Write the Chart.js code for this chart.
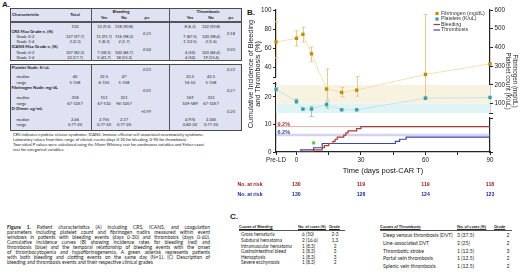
<!DOCTYPE html>
<html><head><meta charset="utf-8">
<script src="https://cdn.jsdelivr.net/npm/chart.js@4.4.1/dist/chart.umd.min.js"></script>
<style>
html,body{margin:0;padding:0;background:#fff;}
#page{position:relative;width:520px;height:277px;overflow:hidden;font-family:Lato,'Liberation Sans',sans-serif;color:#1b1b1b;}
.t{position:absolute;white-space:nowrap;line-height:1;}
.box{position:absolute;box-sizing:border-box;background:#dfe2f2;border:1px solid #4a4a4a;}
.ln{position:absolute;background:#555;}
.cap{position:absolute;left:7px;width:203px;font-size:5px;line-height:1;text-align:justify;text-align-last:justify;color:#1b1b1b;}
.cap.last{text-align-last:left;}
#chartWrap{position:absolute;left:228px;top:0;width:292px;height:205px;}
#chartWrap canvas{width:292px;height:205px;}
.pl{position:absolute;font-family:'Liberation Sans',Arial,sans-serif;font-weight:700;font-size:8px;line-height:1;}
</style></head>
<body><div id="page">
<div class="pl" style="left:2px;top:1px;">A.</div>
<div class="pl" style="left:247px;top:9px;">B.</div>
<div class="pl" style="left:230px;top:213px;">C.</div>
<div id="chartWrap"><canvas id="c" width="292" height="205"></canvas></div>
</div>
<script>
// ---------------- Chart data (panel B) ----------------
const preLDDay = -9.5;
const timepoints = ['Pre-LD', 0, 3, 7, 14, 21, 28, 60, 90];
const fibrinogenMean = [429, 449, 470, 366, 178, 160, 172, 256, 312];
const fibrinogenLow  = [345, 408, 429, 324, 123, 136, 140, 140, null];
const fibrinogenHigh = [538, 489, 508, 402, 285, 187, 245, 576, null];
const plateletMean = [176, 112, 71, 71, 95, 67, 67, 129, 133];
const plateletLow  = [168, 100, 66, 31, 76, 63, 63, 123, null];
const plateletHigh = [184, 125, 76, 85, 112, 71, 71, 135, null];
const bleedingDays   = [0, 8, 12, 13, 15, 17, 18, 19, 22, 23, 24, 28, 30, 90];
const bleedingCumPct = [0, 0.77, 1.54, 2.31, 3.08, 3.85, 4.62, 5.38, 6.15, 6.92, 7.69, 8.46, 9.23, 9.23];
const thrombosisDays   = [0, 2, 8, 12, 46, 48, 51, 90];
const thrombosisCumPct = [0, 0.77, 1.54, 3.08, 3.85, 4.62, 5.38, 5.38];
const finalIncidence = [9.2, 6.2];
const finalIncidenceLabels = ['9.2%', '6.2%'];
const bothEventsDay = [8];
const bothEventsPct = [3.3];
const fibrinogenBand = [100, 200];
const plateletBand = [50, 100];
const riskDays = [0, 30, 60, 90];
const atRiskBleeding = [130, 119, 119, 118];
const atRiskThrombosis = [130, 128, 124, 123];
const xTickValues = [preLDDay, 0, 15, 30, 45, 60, 75, 90];
const xTickLabels = ['Pre-LD', '0', '', '30', '', '60', '', '90'];
const yTopTicks = [30, 40, 60, 80, 100];
const yTopLabels = ['', '40', '60', '80', '100'];
const yIncTicks = [0, 10, 20, 25];
const yIncLabels = ['0', '10', '20', ''];
const yRightTicks = [50, 100, 200, 300, 400, 500, 600];
const yRightLabels = ['', '100', '200', '300', '400', '500', '600'];
const seriesNames = ['Fibrinogen (mg/dL)', 'Platelets (K/uL)', 'Bleeding', 'Thrombosis'];

const C = {fib:'#c48c0c', fibLine:'#efe2b6', fibErr:'#e2cd8e', plt:'#3b9ea7', pltLine:'#c2e6e9', pltErr:'#8fcdd3',
  bleed:'#a53d36', thromb:'#3b46a8', green:'#55c244', red:'#a11c1c', blue:'#1f2c9c'};
const CF = "'Liberation Sans', Arial, sans-serif";
Chart.defaults.font.family = CF;
Chart.defaults.color = '#222';

const toX = t => t === 'Pre-LD' ? preLDDay : t;
const pts = (xs, ys) => xs.map((x, i) => ({x: toX(x), y: ys[i]}));

const axisStyle = (labels) => ({
  grid: {display: true, drawOnChartArea: false, drawTicks: true, tickLength: 3, color: '#222', lineWidth: 1},
  border: {display: true, color: '#222', width: 1.2},
  ticks: {font: {size: 6.3}, color: '#222', padding: 1.5, autoSkip: false, callback: (v, i) => labels[i]}
});
const gapAxis = (pos, w, weight, sw) => ({
  type: 'linear', position: pos, stack: pos === 'left' ? 'L' : 'R', stackWeight: sw, weight: weight, min: 0, max: 1,
  grid: {display: false}, border: {display: false}, ticks: {display: false},
  afterFit: s => { s.width = w; }
});

const bgPlugin = {
  id: 'bg',
  beforeDatasetsDraw(chart) {
    const {ctx, chartArea: ca, scales: {x, yR}} = chart;
    ctx.save();
    const band = (b, col) => {
      const y1 = yR.getPixelForValue(b[1]), y0 = yR.getPixelForValue(b[0]);
      ctx.fillStyle = col; ctx.fillRect(ca.left, y1, ca.right - ca.left, y0 - y1);
    };
    band(fibrinogenBand, '#f8f2e0');
    band(plateletBand, '#e0f3f5');
    const bars = (lo, hi, col) => {
      ctx.strokeStyle = col; ctx.lineWidth = 1;
      timepoints.forEach((t, i) => {
        if (lo[i] == null) return;
        const px = Math.round(x.getPixelForValue(toX(t))) + 0.5;
        const a = yR.getPixelForValue(lo[i]), b = yR.getPixelForValue(hi[i]);
        ctx.beginPath();
        ctx.moveTo(px, a); ctx.lineTo(px, b);
        ctx.moveTo(px - 1.8, a); ctx.lineTo(px + 1.8, a);
        ctx.moveTo(px - 1.8, b); ctx.lineTo(px + 1.8, b);
        ctx.stroke();
      });
    };
    bars(fibrinogenLow, fibrinogenHigh, C.fibErr);
    bars(plateletLow, plateletHigh, C.pltErr);
    ctx.restore();
  },
  afterDraw(chart) {
    const {ctx, chartArea: ca, scales: {x, yInc}} = chart;
    ctx.save();
    ctx.font = `bold 5.5px ${CF}`; ctx.textBaseline = 'middle'; ctx.textAlign = 'left';
    [C.bleed, C.thromb].forEach((col, i) => {
      ctx.fillStyle = col;
      ctx.fillText(finalIncidenceLabels[i], ca.left + 1.5, yInc.getPixelForValue(finalIncidence[i]) - 2.4);
    });
    ctx.font = `5.2px ${CF}`;
    const lx = ca.right - 53, tx = ca.right - 49;
    const rows = [ca.top + 3.5, ca.top + 9, ca.top + 14.5, ca.top + 20];
    ctx.fillStyle = C.fib; ctx.fillRect(lx - 1.6, rows[0] - 1.6, 3.2, 3.2);
    ctx.fillStyle = C.plt; ctx.fillRect(lx - 1.6, rows[1] - 1.6, 3.2, 3.2);
    ctx.lineWidth = 1.2;
    ctx.strokeStyle = C.bleed; ctx.beginPath(); ctx.moveTo(lx - 3.5, rows[2]); ctx.lineTo(lx + 3, rows[2]); ctx.stroke();
    ctx.strokeStyle = C.thromb; ctx.beginPath(); ctx.moveTo(lx - 3.5, rows[3]); ctx.lineTo(lx + 3, rows[3]); ctx.stroke();
    ctx.fillStyle = '#333';
    seriesNames.forEach((n, i) => ctx.fillText(n, tx, rows[i]));
    ctx.fillStyle = '#222'; ctx.textAlign = 'center';
    ctx.font = `7.3px ${CF}`;
    ctx.save(); ctx.translate(ca.left - 25, ca.top + 64); ctx.rotate(-Math.PI / 2);
    ctx.fillText('Cumulative Incidence of Bleeding', 0, 0); ctx.fillText('and Thrombosis (%)', 0, 7.2);
    ctx.restore();
    ctx.font = `6.3px ${CF}`;
    ctx.save(); ctx.translate(ca.right + 25, ca.top + 71); ctx.rotate(Math.PI / 2);
    ctx.fillText('Fibrinogen (mg/dL)', 0, 0); ctx.fillText('Platelet count (K/uL)', 0, 6.8);
    ctx.restore();
    ctx.font = `bold 5.2px ${CF}`; ctx.textAlign = 'center';
    const r1 = x.bottom + 7.5, r2 = x.bottom + 17.5;
    riskDays.forEach((d, i) => {
      const px = x.getPixelForValue(d);
      ctx.fillStyle = C.red; ctx.fillText(String(atRiskBleeding[i]), px, r1);
      ctx.fillStyle = C.blue; ctx.fillText(String(atRiskThrombosis[i]), px, r2);
    });
    ctx.textAlign = 'left';
    ctx.fillStyle = C.red; ctx.fillText('No. at risk', 9.5, r1);
    ctx.fillStyle = C.blue; ctx.fillText('No. at risk', 9.5, r2);
    ctx.restore();
  }
};

new Chart(document.getElementById('c'), {
  type: 'line',
  data: {
    datasets: [
      {label: seriesNames[0], yAxisID: 'yR', data: pts(timepoints, fibrinogenMean), borderColor: C.fibLine, borderWidth: 1,
       pointStyle: 'rect', pointRadius: 2.4, pointBackgroundColor: C.fib, pointBorderColor: C.fib, pointBorderWidth: 0, clip: false},
      {label: seriesNames[1], yAxisID: 'yR', data: pts(timepoints, plateletMean), borderColor: C.pltLine, borderWidth: 1,
       pointStyle: 'rect', pointRadius: 2.4, pointBackgroundColor: C.plt, pointBorderColor: C.plt, pointBorderWidth: 0, clip: false},
      {label: 'Both same day', type: 'scatter', yAxisID: 'yInc', data: pts(bothEventsDay, bothEventsPct),
       pointStyle: 'rect', pointRadius: 1.8, pointBackgroundColor: C.green, pointBorderColor: C.green, pointBorderWidth: 0.5},
      {label: seriesNames[2], yAxisID: 'yInc', data: pts(bleedingDays, bleedingCumPct), stepped: 'before',
       borderColor: C.bleed, borderWidth: 1.2, pointRadius: 0, fill: false},
      {label: seriesNames[3], yAxisID: 'yInc', data: pts(thrombosisDays, thrombosisCumPct), stepped: 'before',
       borderColor: C.thromb, borderWidth: 1.2, pointRadius: 0, fill: false},
      {label: 'ref bleeding', yAxisID: 'yInc', data: [{x: preLDDay, y: finalIncidence[0]}, {x: 90, y: finalIncidence[0]}],
       borderColor: 'rgba(200,110,110,0.55)', borderWidth: 1, pointRadius: 0},
      {label: 'ref thrombosis', yAxisID: 'yInc', data: [{x: preLDDay, y: finalIncidence[1]}, {x: 90, y: finalIncidence[1]}],
       borderColor: 'rgba(130,130,215,0.35)', borderWidth: 2.5, pointRadius: 0}
    ]
  },
  options: {
    responsive: false, maintainAspectRatio: false, animation: false, devicePixelRatio: 1,
    layout: {padding: {left: 0, right: 0, top: 10, bottom: 28}},
    plugins: {legend: {display: false}, tooltip: {enabled: false}},
    scales: {
      x: Object.assign(axisStyle(xTickLabels), {
        type: 'linear', position: 'bottom', min: preLDDay, max: 90,
        afterBuildTicks: s => { s.ticks = xTickValues.map(v => ({value: v})); },
        title: {display: true, text: 'Time (days post-CAR T)', font: {size: 7.5}, color: '#111', padding: {top: 0, bottom: 2}},
        afterFit: s => { s.height = 25; }
      }),
      yTop: Object.assign(axisStyle(yTopLabels), {
        type: 'linear', position: 'left', stack: 'L', stackWeight: 67, weight: 3, min: 30, max: 100,
        afterBuildTicks: s => { s.ticks = yTopTicks.map(v => ({value: v})); },
        afterFit: s => { s.width = 48; }
      }),
      yGapL: gapAxis('left', 48, 2, 6),
      yInc: Object.assign(axisStyle(yIncLabels), {
        type: 'linear', position: 'left', stack: 'L', stackWeight: 69, weight: 1, min: 0, max: 25,
        afterBuildTicks: s => { s.ticks = yIncTicks.map(v => ({value: v})); },
        afterFit: s => { s.width = 48; }
      }),
      yR: Object.assign(axisStyle(yRightLabels), {
        type: 'linear', position: 'right', stack: 'R', stackWeight: 103, weight: 1, min: 50, max: 600,
        afterBuildTicks: s => { s.ticks = yRightTicks.map(v => ({value: v})); },
        afterFit: s => { s.width = 30; }
      }),
      yGapR: gapAxis('right', 30, 2, 5),
      yRlow: Object.assign(axisStyle(['', '']), {
        type: 'linear', position: 'right', stack: 'R', stackWeight: 34, weight: 3, min: 0, max: 1,
        afterBuildTicks: s => { s.ticks = [{value: 0}, {value: 1}]; },
        afterFit: s => { s.width = 30; }
      })
    }
  },
  plugins: [bgPlugin]
});

// ---------------- Panels A and C, caption (HTML text) ----------------
const page = document.getElementById('page');
function put(x, y, text, o = {}) {
  const d = document.createElement('div');
  d.className = 't'; d.textContent = text;
  const s = d.style;
  s.left = x + 'px'; s.top = y + 'px'; s.fontSize = (o.size || 4) + 'px';
  if (o.bold) s.fontWeight = '700';
  if (o.italic) s.fontStyle = 'italic';
  if (o.underline) s.textDecoration = 'underline';
  if (o.color) s.color = o.color;
  const tx = o.align === 'center' ? '-50%' : o.align === 'right' ? '-100%' : '0';
  s.transform = `translate(${tx},-50%)`;
  page.insertBefore(d, document.getElementById('chartWrap'));
}
function el(cls, x, y, w, h) {
  const d = document.createElement('div'); d.className = cls;
  Object.assign(d.style, {left: x + 'px', top: y + 'px', width: w + 'px', height: h + 'px'});
  page.insertBefore(d, document.getElementById('chartWrap'));
}
el('box', 10, 8, 232, 53); el('box', 10, 64, 232, 67);
el('ln', 10, 20.5, 232, 0.8); el('ln', 10, 22, 232, 0.8);
[91, 169].forEach(x => { el('ln', x, 8, 0.9, 53); el('ln', x, 64, 0.9, 67); });
const colX = {total: 75, bYes: 104, bNo: 124, bP: 147, tYes: 190, tNo: 211, tP: 231};
put(12, 15, 'Characteristic', {bold: true, size: 4.4}); put(colX.total, 15, 'Total', {bold: true, align: 'center', size: 4.4});
put(121, 11.5, 'Bleeding', {bold: true, align: 'center', size: 4.4}); put(208, 11.5, 'Thrombosis', {bold: true, align: 'center', size: 4.4});
[['Yes', colX.bYes], ['No', colX.bNo], ['p=', colX.bP], ['Yes', colX.tYes], ['No', colX.tNo], ['p=', colX.tP]]
  .forEach(([t, x]) => put(x, 17.8, t, {bold: true, align: 'center', size: 4.2}));
const tableRows = [
  {y: 26.5, v: ['130', '12 (9.2)', '118 (90.8)', '8 (6.2)', '122 (93.8)']},
  {y: 31.7, h: 'CRS Max Grade  n, (%)', p: ['0.25', '0.18']},
  {y: 36.9, l: 'Grade 0-2', v: ['127 (97.7)', '11 (91.7)', '116 (98.3)', '7 (87.5)', '120 (98.4)']},
  {y: 42.1, l: 'Grade 3-4', v: ['3 (2.3)', '1 (8.3)', '2 (1.7)', '1 (12.5)', '2 (1.6)']},
  {y: 47.3, h: 'ICANS Max Grade  n, (%)', p: ['0.04', '0.03']},
  {y: 52.5, l: 'Grade 0-2', v: ['107 (82.3)', '7 (58.3)', '100 (84.7)', '4 (50)', '103 (84.4)']},
  {y: 57.5, l: 'Grade 3-4', v: ['23 (17.7)', '5 (41.7)', '18 (15.3)', '4 (50)', '19 (15.6)']},
  {y: 67.5, h: 'Platelet Nadir, K/uL', p: ['0.03', '0.22']},
  {y: 77.2, l: 'median', v: ['40', '22.5', '47', '23.5', '42.5']},
  {y: 82.5, l: 'range', v: ['5-158', '6-155', '5-158', '16-52', '5-158']},
  {y: 88.2, h: 'Fibrinogen Nadir, mg/dL', p: ['0.01', '0.27']},
  {y: 98.2, l: 'median', v: ['318', '151', '351', '169', '333']},
  {y: 103.6, l: 'range', v: ['67-1057', '67-510', '94-1057', '109-589', '67-1057']},
  {y: 109.3, h: 'D-Dimer, ug/mL', p: ['>0.99', '0.20']},
  {y: 119.8, l: 'median', v: ['2.46', '2.755', '2.37', '4.974', '2.345']},
  {y: 125.3, l: 'range', v: ['0.77-20', '0.77-20', '0.77-20', '0.82-20', '0.77-20']}
];
tableRows.forEach(r => {
  if (r.h) put(11.5, r.y, r.h, {bold: true, size: 4.3});
  if (r.l) put(16.5, r.y, r.l);
  if (r.v) [colX.total, colX.bYes, colX.bNo, colX.tYes, colX.tNo].forEach((x, i) => put(x, r.y, r.v[i], {align: 'center'}));
  if (r.p) { put(colX.bP + 4, r.y + 2.4, r.p[0], {italic: true, align: 'right'}); put(colX.tP + 4, r.y + 2.4, r.p[1], {italic: true, align: 'right'}); }
});
const notes = [
  'CRS indicates cytokine release syndrome; ICANS, Immune effector cell-associated neurotoxicity syndrome.',
  'Laboratory values from time range of clinical events (days 0-30 for bleeding, 0-90 for thrombosis)',
  'Two-sided P values were calculated using the Mann-Whitney test for continuous variables and Fisher exact',
  'test for categorical variables.'
];
notes.forEach((n, i) => put(13, 135 + i * 5, n, {size: 4.1}));

const capLines = [
  ['Figure 1.', ' Patient characteristics (A) including CRS, ICANS, and coagulation'],
  ['', 'parameters including platelet count and fibrinogen nadirs measured within event'],
  ['', 'windows in patients with bleeding events (days 0-30) and thrombosis (days 0-60).'],
  ['', 'Cumulative incidence curves (B) showing incidence rates for bleeding (red) and'],
  ['', 'thrombosis (blue) and the temporal relationship of bleeding events with the onset'],
  ['', 'of thrombocytopenia and hypofibrinogenemia. A green asterisk represents patients'],
  ['', 'with both bleeding and clotting events on the same day (N=1). (C) Description of'],
  ['', 'bleeding and thrombosis events and their respective clinical grades']
];
capLines.forEach((c, i) => {
  const d = document.createElement('div');
  d.className = 'cap' + (i === capLines.length - 1 ? ' last' : '');
  d.style.top = (224.8 + i * 5.05) + 'px';
  if (c[0]) { const b = document.createElement('b'); b.textContent = c[0]; d.appendChild(b); }
  d.appendChild(document.createTextNode(c[1]));
  page.appendChild(d);
});

const bleedCauses = [['Gross hematuria', '6 (50)', '2-3'], ['Subdural hematoma', '2 (16.6)', '1,3'], ['Intramuscular hematoma', '1 (8.3)', '2'],
  ['Gastrointestinal bleed', '1 (8.3)', '3'], ['Hemoptysis', '1 (8.3)', '3'], ['Severe ecchymosis', '1 (8.3)', '2']];
const thrombCauses = [['Deep venous thrombosis (DVT)', '3 (37.5)', '2'], ['Line-associated DVT', '2 (25)', '2'], ['Thrombotic stroke', '1 (12.5)', '3'],
  ['Portal vein thrombosis', '1 (12.5)', '2'], ['Splenic vein thrombosis', '1 (12.5)', '2']];
put(239, 227.3, 'Causes of Bleeding', {bold: true, underline: true, size: 4});
put(298, 227.3, 'No. of cases (%)', {bold: true, underline: true, size: 4});
put(329, 227.3, 'Grade', {bold: true, underline: true, size: 4});
el('ln', 239, 230.2, 106, 1.1);
bleedCauses.forEach((r, i) => { const y = 234.4 + i * 5.6; put(241, y, r[0], {size: 4.7}); put(302, y, r[1], {size: 4.7}); put(335, y, r[2], {size: 4.7, align: 'center'}); });
put(380, 227.3, 'Causes of Thrombosis', {bold: true, underline: true, size: 4.2});
put(457, 227.3, 'No. of cases (%)', {bold: true, underline: true, size: 4.2});
put(494, 227.3, 'Grade', {bold: true, underline: true, size: 4.2});
el('ln', 380, 230.4, 132, 1.1);
thrombCauses.forEach((r, i) => { const y = 235.7 + i * 7.9; put(383, y, r[0], {size: 5.1}); put(457, y, r[1], {size: 5.1}); put(508, y, r[2], {size: 5.1, align: 'center'}); });
</script>
</body></html>
